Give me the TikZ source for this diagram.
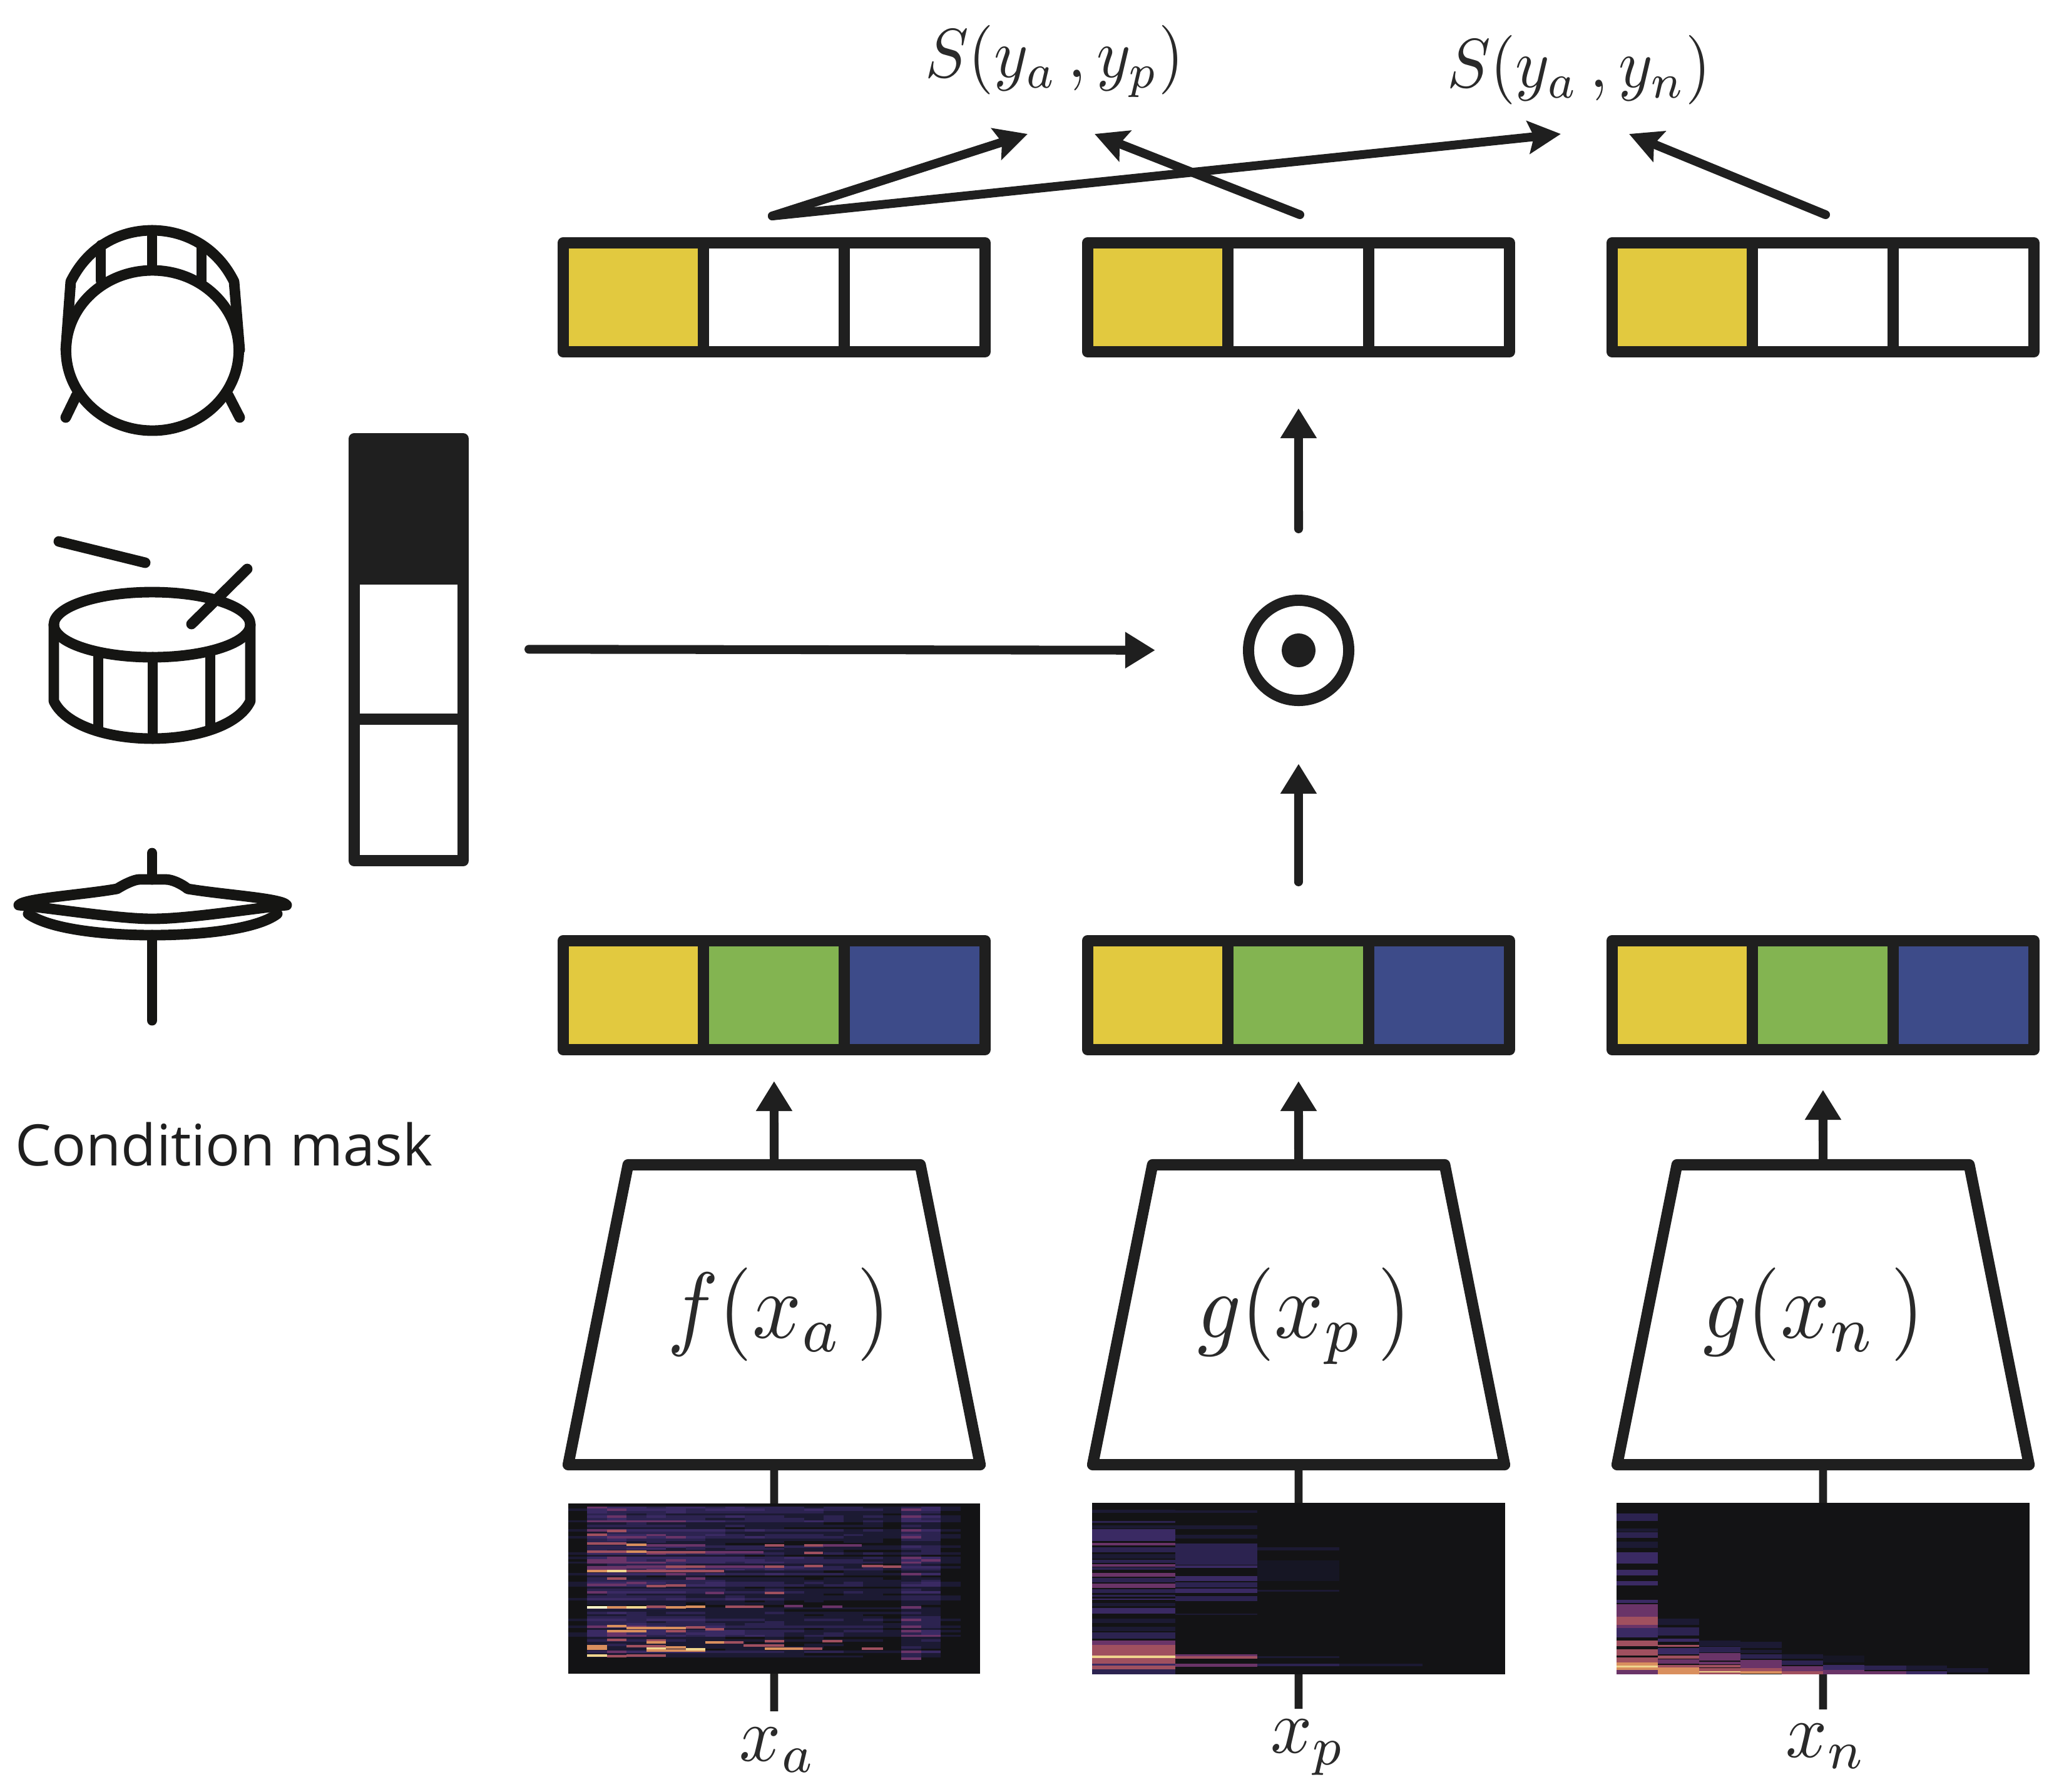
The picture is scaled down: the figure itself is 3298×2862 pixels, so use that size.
\documentclass[tikz,border=0pt]{standalone}
\usepackage{fontspec}
\usepackage{xcolor}
\usepackage{tikz}
\usetikzlibrary{arrows.meta,positioning,shapes.geometric}

\newfontfamily\captionfont{Open Sans}
\newcommand{\netmath}[2]{\hspace*{#1}\scalebox{3.9}[4.25]{$#2$}}

\definecolor{inkdark}{HTML}{1F1F1F}
\definecolor{iconink}{HTML}{151513}
\definecolor{mathink}{HTML}{2A2A2A}
\definecolor{cellyellow}{HTML}{E2C93F}
\definecolor{cellgreen}{HTML}{83B451}
\definecolor{cellblue}{HTML}{3D4B89}
\definecolor{spec0}{HTML}{131315}
\definecolor{spec1}{HTML}{1C1A33}
\definecolor{spec2}{HTML}{2C2350}
\definecolor{spec3}{HTML}{3A2A63}
\definecolor{spec4}{HTML}{6A3468}
\definecolor{spec5}{HTML}{A0505F}
\definecolor{spec6}{HTML}{D98F5E}
\definecolor{spec7}{HTML}{F0D58E}
\definecolor{spec8}{HTML}{FDF6C8}
\definecolor{spec9}{HTML}{161624}

\tikzset{
  cellbox/.style={draw=inkdark, line width=5.1pt, line join=round, rectangle, inner sep=0pt, outer sep=0pt, minimum width=2.2467cm, minimum height=1.74cm, fill=white},
  maskcell/.style={draw=inkdark, line width=5.1pt, line join=round, rectangle, inner sep=0pt, outer sep=0pt, minimum width=1.74cm, minimum height=2.24cm, fill=white},
  netblock/.style={draw=inkdark, line width=5.1pt, line join=round, trapezium, trapezium left angle=78.7, trapezium right angle=78.7, trapezium stretches body=true, inner sep=0pt, outer sep=0pt, minimum width=6.58cm, text height=2.765cm, text depth=2.025cm, text=mathink, fill=white},
  flowarrow/.style={draw=inkdark, line width=4pt, line cap=round, -{Triangle[length=0.48cm,width=0.55cm]}},
  simarrow/.style={draw=inkdark, line width=4pt, line cap=round, -{Stealth[length=0.52cm,width=0.52cm,inset=0.09cm]}},
  stemline/.style={draw=inkdark, line width=3.6pt},
  iconline/.style={draw=iconink, line width=4.8pt, line cap=round, line join=round},
  mathlabel/.style={text=mathink, inner sep=0pt, xscale=3.3, yscale=3.5},
  simlabel/.style={text=mathink, inner sep=0pt, xscale=2.95, yscale=3.15}
}

\begin{document}
\begin{tikzpicture}[x=0.01cm,y=-0.01cm]
  \useasboundingbox (0,0) rectangle (3298,2862);

  % Similarity labels
  \node[simlabel] (simp) at (1685,98) {$S(y_a\,,y_p)$};
  \node[simlabel] (simn) at (2523,112) {$S(y_a\,,y_n)$};

  % Embedding rows
  \foreach \col/\xc in {a/1012,p/1850,n/2688}{
    \node[cellbox, fill=cellyellow] (top\col1) at (\xc,475) {};
    \node[cellbox, right=0pt of top\col1] (top\col2) {};
    \node[cellbox, right=0pt of top\col2] (top\col3) {};
    \node[cellbox, fill=cellyellow] (low\col1) at (\xc,1590) {};
    \node[cellbox, fill=cellgreen, right=0pt of low\col1] (low\col2) {};
    \node[cellbox, fill=cellblue, right=0pt of low\col2] (low\col3) {};
  }

  % Condition mask
  \node[maskcell, fill=inkdark] (mask1) at (653,813) {};
  \node[maskcell, below=0pt of mask1] (mask2) {};
  \node[maskcell, minimum height=2.26cm, below=0pt of mask2] (mask3) {};
  \node[font=\captionfont\fontsize{26}{30}\selectfont, text=inkdark, inner sep=0pt] (masklabel) at (358,1828) {Condition mask};

  % Product
  \node[circle, draw=inkdark, line width=5.1pt, minimum size=1.6cm, inner sep=0pt, outer sep=0pt] (prod) at (2075,1039) {};
  \node[circle, fill=inkdark, minimum size=0.54cm, inner sep=0pt] (proddot) at (prod) {};

  % Inputs, stems run behind the spectrograms
  \node[netblock] (neta) at (1237,2100.5) {\netmath{0.16cm}{f(x_a\,)}};
  \node[netblock] (netp) at (2075,2100.5) {\netmath{0.18cm}{g(x_p\,)}};
  \node[netblock] (netn) at (2913,2100.5) {\netmath{0cm}{g(x_n\,)}\hspace*{0.3cm}};
  \node[mathlabel] (xa) at (1243,2796) {$x_a$};
  \node[mathlabel] (xp) at (2090,2792) {$x_p$};
  \node[mathlabel] (xn) at (2918,2790) {$x_n$};
  \coordinate (enda) at (1237,2734);
  \coordinate (endp) at (2075,2730);
  \coordinate (endn) at (2913,2731);
  \draw[stemline] (neta.south) -- (enda);
  \draw[stemline] (netp.south) -- (endp);
  \draw[stemline] (netn.south) -- (endn);

  % Spectrogram of the anchor
  \pgfmathsetseed{4711}
  \begin{scope}[shift={(880,2380)},x=0.00829cm,y=-0.00333cm]
    \fill[spec0] (34,66) rectangle (827,882);
    \foreach \ya in {80,91,...,800}{
      \pgfmathsetmacro\rowlevel{rnd}
      \foreach \xa/\env in {34/0.25,70/0.95,108/1.0,146/0.95,184/0.9,222/0.85,260/0.8,298/0.75,336/0.7,374/0.65,412/0.7,450/0.6,488/0.6,526/0.55,564/0.5,602/0.5,640/0.4,676/0.95,714/0.85,752/0.3,790/0.12}{
        \pgfmathtruncatemacro\specbin{min(4,5.6*\env*(0.25+0.75*\rowlevel)*(0.6+0.4*rnd))}
        \fill[spec\specbin] (\xa,\ya) rectangle ++(38,11);
      }
    }
    \foreach \xa/\xb/\ya/\c in {
      70/108/210/5,108/146/192/5,70/108/252/5,108/146/252/5,146/184/258/6,184/298/262/4,412/450/260/5,488/525/260/5,525/600/262/4,
      70/108/292/5,108/146/292/5,146/184/290/6,184/260/294/5,260/298/294/5,298/410/294/4,488/525/296/5,
      146/410/362/4,222/298/362/5,412/450/364/5,488/525/360/5,600/640/360/5,640/676/362/5,
      70/108/385/6,108/146/385/7,146/334/385/5,108/146/422/5,260/298/422/4,70/146/450/4,184/222/458/5,222/260/453/5,298/334/490/4,412/450/490/5,
      70/108/558/8,108/146/560/6,146/184/558/7,184/222/556/5,222/260/558/6,260/298/555/6,336/410/555/5,450/486/553/4,524/562/555/4,676/714/560/4,
      108/146/650/6,146/222/658/6,222/260/658/6,260/298/655/5,108/184/672/6,222/260/674/5,298/334/665/5,
      108/146/715/5,184/222/718/5,184/222/727/6,298/334/727/6,334/372/727/5,412/450/722/5,524/562/722/5,
      70/108/745/6,146/184/745/5,184/222/745/5,222/260/752/6,372/450/742/5,70/108/757/6,184/222/758/7,412/486/756/6,486/524/756/5,600/640/756/5,
      184/298/766/6,260/298/760/7,70/108/790/7,108/146/792/5,146/222/790/5,676/714/804/4}
      \fill[spec\c] (\xa,\ya) rectangle (\xb,\ya+12);
  \end{scope}

  % Spectrogram of the positive
  \begin{scope}[shift={(880,2380)},x=0.00829cm,y=-0.00333cm]
    \fill[spec0] (1043,63) rectangle (1839,885);
    \foreach \ya/\yb/\c in {95/110/1,150/160/2,170/185/1,190/245/3,255/266/4,275/300/2,310/330/1,335/350/2,358/368/4,372/385/2,400/418/4,425/445/2,450/472/4,478/495/2,505/515/2,522/530/3,545/560/1,568/595/3,620/640/1,658/680/1,685/715/2,725/745/4,745/795/5,795/808/7,808/835/5,835/845/3,845/862/5,862/885/2}
      \fill[spec\c] (1043,\ya) rectangle (1204,\yb);
    \foreach \ya/\yb/\c in {100/110/1,170/190/1,215/235/1,258/360/2,362/375/3,415/440/3,445/470/2,475/495/3,510/535/2,595/600/1,790/798/4,798/810/5,835/850/4}
      \fill[spec\c] (1204,\ya) rectangle (1362,\yb);
    \foreach \ya/\yb/\c in {275/290/1,340/440/9,480/490/1,800/808/1,835/848/2}
      \fill[spec\c] (1362,\ya) rectangle (1520,\yb);
    \fill[spec1] (1520,835) rectangle (1680,848);
  \end{scope}

  % Spectrogram of the negative
  \begin{scope}[shift={(2180,2380)},x=0.00713cm,y=-0.00333cm]
    \fill[spec0] (565,63) rectangle (1491,885);
    \foreach \ya/\yb/\c in {115/150/2,185/200/1,205/230/2,250/280/1,300/355/3,385/410/3,440/460/3,530/545/3,550/610/4,610/650/5,650/665/4,665/710/3,725/750/5,765/795/5,805/830/5,830/845/6,845/852/7,852/865/6,865/885/4}
      \fill[spec\c] (565,\ya) rectangle (658,\yb);
    \foreach \ya/\yb/\c in {620/650/1,660/700/2,715/730/3,745/755/5,760/790/3,795/810/5,815/835/4,840/852/5,852/885/6}
      \fill[spec\c] (658,\ya) rectangle (751,\yb);
    \foreach \ya/\yb/\c in {725/750/1,755/780/2,785/820/4,825/838/4,840/852/5,855/870/5,870/878/7,878/885/5}
      \fill[spec\c] (751,\ya) rectangle (843,\yb);
    \foreach \ya/\yb/\c in {730/760/1,770/785/1,790/810/2,818/855/4,855/870/5,870/882/6}
      \fill[spec\c] (843,\ya) rectangle (936,\yb);
    \foreach \ya/\yb/\c in {790/810/1,820/840/2,848/870/4,870/885/5}
      \fill[spec\c] (936,\ya) rectangle (1028,\yb);
    \foreach \ya/\yb/\c in {795/830/9,840/865/3,865/885/4}
      \fill[spec\c] (1028,\ya) rectangle (1121,\yb);
    \fill[spec2] (1121,845) rectangle (1214,865);
    \fill[spec4] (1121,870) rectangle (1214,885);
    \fill[spec1] (1214,845) rectangle (1306,865);
    \fill[spec3] (1214,870) rectangle (1306,885);
    \fill[spec1] (1306,855) rectangle (1398,878);
  \end{scope}

  % Flow upwards
  \draw[flowarrow, shorten >=0.5cm] (neta.north) -- (lowa2.south);
  \draw[flowarrow, shorten >=0.5cm] (netp.north) -- (lowp2.south);
  \draw[flowarrow, shorten >=0.64cm] (netn.north) -- (lown2.south);
  \draw[flowarrow, shorten <=0.94cm, shorten >=1.01cm] (lowp2.north) -- (prod.south);
  \draw[flowarrow, shorten <=1.14cm, shorten >=0.9cm] (prod.north) -- (topp2.south);
  \draw[flowarrow, shorten <=1.05cm, shorten >=1.49cm] (mask2.east) -- (prod.west);

  % Flow to the similarities
  \coordinate (froma) at (1234,345);
  \coordinate (fromp) at (2077,343);
  \coordinate (fromn) at (2917,343);
  \coordinate (tipap) at (1642,214);
  \coordinate (tipan) at (2494,214);
  \coordinate (tippp) at (1749,214);
  \coordinate (tipnn) at (2603,214);
  \draw[simarrow] (fromp) -- (tippp);
  \draw[simarrow] (froma) -- (tipap);
  \draw[simarrow] (froma) -- (tipan);
  \draw[simarrow] (fromn) -- (tipnn);

  % Bass drum
  \draw[iconline] (243.5,560) ellipse [x radius=138, y radius=128];
  \draw[iconline] (105,559) -- (113,450) .. controls (140,395) and (190,368) .. (243,368) .. controls (296,368) and (347,395) .. (374,450) -- (383,559);
  \draw[iconline] (243,368) -- (243,430);
  \draw[iconline] (161,392) -- (161,448);
  \draw[iconline] (322,392) -- (322,448);
  \draw[iconline] (122,632) -- (105,667);
  \draw[iconline] (365,632) -- (383,667);

  % Snare drum
  \draw[iconline] (243,998) ellipse [x radius=157, y radius=52];
  \draw[iconline] (86,998) -- (86,1120) .. controls (105,1160) and (175,1180) .. (243,1180) .. controls (311,1180) and (381,1160) .. (400,1120) -- (400,998);
  \draw[iconline] (157,1045) -- (157,1166);
  \draw[iconline] (244,1050) -- (244,1180);
  \draw[iconline] (336,1045) -- (336,1166);
  \draw[iconline] (94,865) -- (232,899);
  \draw[iconline] (306,997) -- (395,909);

  % Cymbal
  \draw[iconline] (243,1363) -- (243,1405);
  \draw[iconline] (243,1494) -- (243,1630);
  \draw[iconline] (30,1446) .. controls (40,1435) and (130,1430) .. (187,1420) .. controls (200,1412) and (215,1405) .. (223,1405) -- (265,1405) .. controls (275,1405) and (290,1412) .. (300,1420) .. controls (360,1430) and (450,1435) .. (458,1446) .. controls (400,1452) and (300,1468) .. (243,1468) .. controls (190,1468) and (90,1452) .. cycle;
  \draw[iconline] (45,1460) .. controls (80,1485) and (170,1494) .. (243,1494) .. controls (320,1494) and (410,1485) .. (443,1460);
\end{tikzpicture}
\end{document}
